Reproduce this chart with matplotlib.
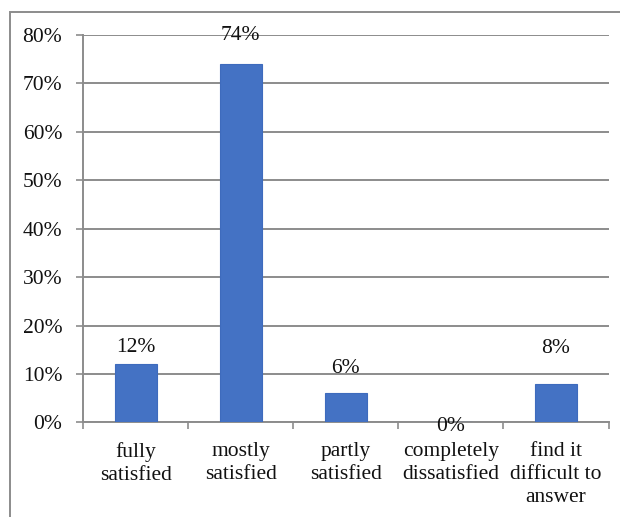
import matplotlib
matplotlib.use("Agg")
from matplotlib import pyplot as plt
from matplotlib.patches import Rectangle
from matplotlib.ticker import PercentFormatter, FixedLocator, NullFormatter

# survey answers and their shares (%)
categories = ["fully\nsatisfied", "mostly\nsatisfied", "partly\nsatisfied",
              "completely\ndissatisfied", "find it\ndifficult to\nanswer"]
shares = [12, 74, 6, 0, 8]
# how far each value label sits above its bar (points)
label_offsets = [9, 17, 15, -6, 22]

plt.rcParams["font.family"] = ["Liberation Serif", "DejaVu Serif"]
grey = "#8c8c8c"

fig = plt.figure(figsize=(6.2, 5.17), dpi=100)
ax = fig.add_axes([0.1339, 0.1828, 0.8476, 0.7495])

x = range(len(shares))
bars = ax.bar(x, shares, width=0.4, color="#4472C4", edgecolor="#3e6bbd",
              linewidth=0.8, zorder=3)

for i, v in enumerate(shares):
    ax.annotate(f"{v}%", (i, v), xytext=(0, label_offsets[i]),
                textcoords="offset points", ha="center", va="baseline",
                fontsize=15.5, color="#111111", zorder=4)

ax.set_xlim(-0.5, len(shares) - 0.5)
ax.set_ylim(0, 80)
ax.set_yticks(range(0, 81, 10))
ax.yaxis.set_major_formatter(PercentFormatter(decimals=0))
ax.grid(axis="y", color=grey, linewidth=1.4, zorder=0)

# category names centred under bars, tick marks between categories
ax.xaxis.set_major_locator(FixedLocator([i - 0.5 for i in range(len(shares) + 1)]))
ax.xaxis.set_major_formatter(NullFormatter())
ax.xaxis.set_minor_locator(FixedLocator(list(x)))
ax.set_xticklabels(categories, minor=True, linespacing=1.3, color="#111111")
ax.tick_params(axis="x", which="minor", length=0, pad=14, labelsize=15.5)
ax.tick_params(axis="x", which="major", length=5, width=1.2, color=grey)
ax.tick_params(axis="y", length=5, width=1.2, color=grey, pad=10,
               labelsize=15.5, labelcolor="#111111")

for side in ["top", "right"]:
    ax.spines[side].set_visible(False)
for side in ["left", "bottom"]:
    ax.spines[side].set_color(grey)
    ax.spines[side].set_linewidth(1.4)

# outer chart frame (only top and left edges fall inside the figure)
fig.patches.append(Rectangle((10 / 620, -0.2), 1.2, 1 - 12 / 517 + 0.2,
                             transform=fig.transFigure, fill=False,
                             edgecolor=grey, linewidth=1.4))

plt.savefig("out.png", dpi=100)
